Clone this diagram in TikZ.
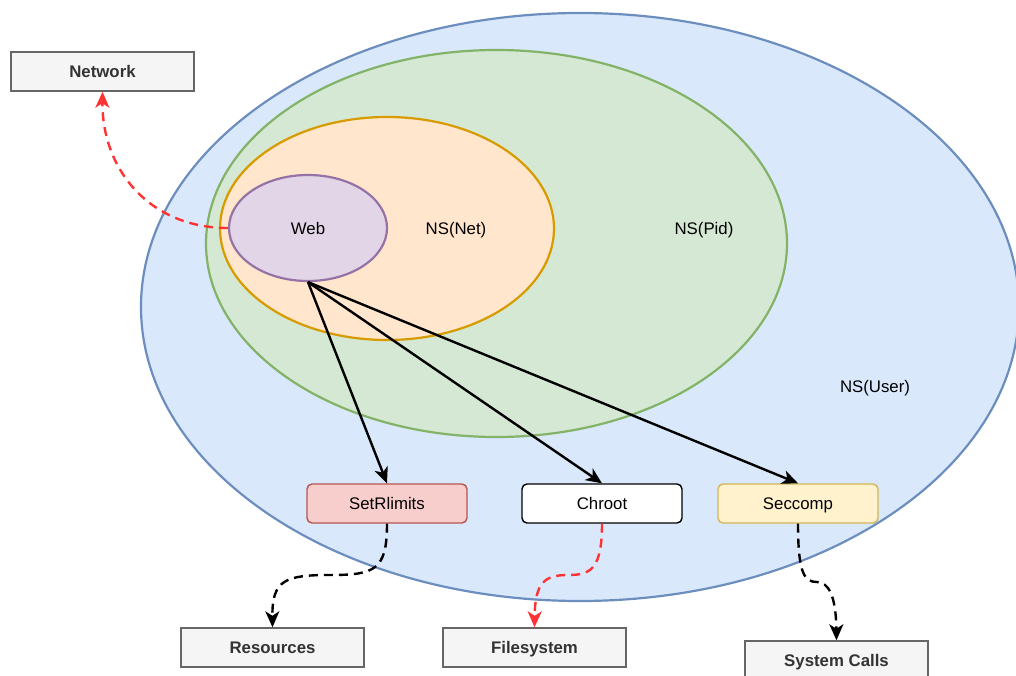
\documentclass[tikz,border=0pt]{standalone}
\usepackage{fontspec}
\setmainfont{Liberation Sans}
\usetikzlibrary{shapes.geometric,arrows.meta}

\definecolor{userfill}{HTML}{DAE8FC}
\definecolor{userline}{HTML}{6C8EBF}
\definecolor{pidfill}{HTML}{D5E8D4}
\definecolor{pidline}{HTML}{82B366}
\definecolor{netfill}{HTML}{FFE6CC}
\definecolor{netline}{HTML}{D79B00}
\definecolor{webfill}{HTML}{E1D5E7}
\definecolor{webline}{HTML}{9673A6}
\definecolor{rlimfill}{HTML}{F8CECC}
\definecolor{rlimline}{HTML}{B85450}
\definecolor{seccfill}{HTML}{FFF2CC}
\definecolor{seccline}{HTML}{D6B656}
\definecolor{resfill}{HTML}{F5F5F5}
\definecolor{resline}{HTML}{666666}
\definecolor{restext}{HTML}{333333}
\definecolor{alertred}{HTML}{FF3333}

\tikzset{
  txt/.style={font=\fontsize{16.8}{20}\selectfont, text height=12pt, text depth=0pt},
  lbl/.style={txt, inner sep=0pt},
  ns/.style={ellipse, draw, line width=2.2pt, inner sep=0pt},
  mech/.style={txt, rectangle, rounded corners=5pt, line width=1.4pt, draw,
    minimum width=160, minimum height=39, inner sep=0pt},
  resource/.style={txt, rectangle, draw=resline, fill=resfill, line width=1.4pt,
    minimum width=183, minimum height=39, inner sep=0pt, text=restext,
    font=\fontsize{16.8}{20}\selectfont\bfseries},
  tip/.style={-{Stealth[length=16pt,width=14pt,inset=4.5pt]}},
  solidarrow/.style={tip, line width=2.4pt, black},
  blackdash/.style={tip, line width=2.4pt, black, dash pattern=on 9pt off 6pt},
  reddash/.style={tip, line width=2.4pt, alertred, dash pattern=on 9pt off 6pt},
}

\begin{document}
\begin{tikzpicture}[x=1pt,y=-1pt]
\useasboundingbox (0,0) rectangle (1016,676);

% nested namespaces
\node[ns, fill=userfill, draw=userline, minimum width=878, minimum height=588] (user) at (580,307) {};
\node[ns, fill=pidfill, draw=pidline, minimum width=581, minimum height=387] (pid) at (496.5,243.5) {};
\node[ns, fill=netfill, draw=netline, minimum width=334, minimum height=223] (net) at (387,228.5) {};
\node[ns, fill=webfill, draw=webline, minimum width=158, minimum height=106, txt] (web) at (308,228) {Web};

\node[lbl] (netlbl) at (456,229) {NS(Net)};
\node[lbl] (pidlbl) at (704,229) {NS(Pid)};
\node[lbl] (userlbl) at (875,386) {NS(User)};

% confinement mechanisms
\node[mech, fill=rlimfill, draw=rlimline] (rlim) at (387,503.5) {SetRlimits};
\node[mech, fill=white, draw=black] (chroot) at (602,503.5) {Chroot};
\node[mech, fill=seccfill, draw=seccline] (secc) at (798,503.5) {Seccomp};

% host resources
\node[resource] (network) at (102.5,71.5) {Network};
\node[resource] (res) at (272.5,647.5) {Resources};
\node[resource] (fs) at (534.5,647.5) {Filesystem};
\node[resource] (sys) at (836.5,660.5) {System Calls};

% web process applies each mechanism
\draw[solidarrow] (web.south) -- (rlim.north);
\draw[solidarrow] (web.south) -- (chroot.north);
\draw[solidarrow] (web.south) -- (secc.north);

% access paths
\draw[reddash] (web.west) .. controls (150,228) and (102,170) .. (network.south);
\draw[blackdash] (rlim.south) .. controls (387,570) and (375,575) .. (330,575)
  .. controls (285,575) and (272,580) .. (res.north);
\draw[reddash] (chroot.south) .. controls (602,570) and (590,575) .. (568,575)
  .. controls (545,575) and (535,582) .. (fs.north);
\draw[blackdash] (secc.south) .. controls (798,575) and (805,582) .. (817,582)
  .. controls (828,582) and (836,595) .. (sys.north);
\end{tikzpicture}
\end{document}
